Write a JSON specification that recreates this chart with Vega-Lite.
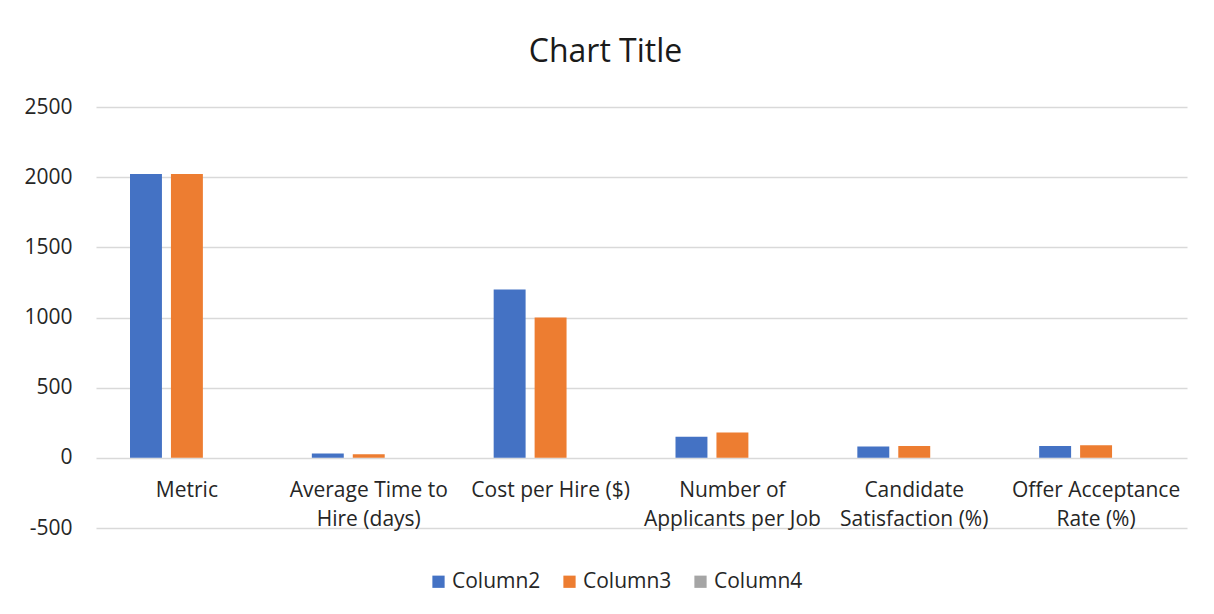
{
  "$schema": "https://vega.github.io/schema/vega-lite/v6.json",
  "width": 1091,
  "height": 421,
  "padding": {"left": 23, "top": 36, "right": 26, "bottom": 10},
  "background": "white",
  "title": {
    "text": "Chart Title",
    "fontSize": 32,
    "font": "Open Sans",
    "fontWeight": "normal",
    "color": "#1a1a1a",
    "offset": 27,
    "anchor": "middle",
    "frame": "bounds"
  },
  "data": {
    "values": [
      {"category": "Metric", "series": "Column2", "value": 2022},
      {"category": "Metric", "series": "Column3", "value": 2023},
      {"category": "Metric", "series": "Column4", "value": null},
      {"category": "Average Time to Hire (days)", "series": "Column2", "value": 30},
      {"category": "Average Time to Hire (days)", "series": "Column3", "value": 25},
      {"category": "Average Time to Hire (days)", "series": "Column4", "value": null},
      {"category": "Cost per Hire ($)", "series": "Column2", "value": 1200},
      {"category": "Cost per Hire ($)", "series": "Column3", "value": 1000},
      {"category": "Cost per Hire ($)", "series": "Column4", "value": null},
      {"category": "Number of Applicants per Job", "series": "Column2", "value": 150},
      {"category": "Number of Applicants per Job", "series": "Column3", "value": 180},
      {"category": "Number of Applicants per Job", "series": "Column4", "value": null},
      {"category": "Candidate Satisfaction (%)", "series": "Column2", "value": 80},
      {"category": "Candidate Satisfaction (%)", "series": "Column3", "value": 85},
      {"category": "Candidate Satisfaction (%)", "series": "Column4", "value": null},
      {"category": "Offer Acceptance Rate (%)", "series": "Column2", "value": 85},
      {"category": "Offer Acceptance Rate (%)", "series": "Column3", "value": 90},
      {"category": "Offer Acceptance Rate (%)", "series": "Column4", "value": null}
    ]
  },
  "mark": {"type": "bar"},
  "encoding": {
    "x": {
      "field": "category",
      "type": "nominal",
      "sort": null,
      "scale": {"paddingInner": 0.374, "paddingOuter": 0.187},
      "axis": {
        "title": null,
        "domain": false,
        "ticks": false,
        "offset": -70,
        "labelAngle": 0,
        "labelFont": "Open Sans",
        "labelFontSize": 21,
        "labelColor": "#262626",
        "labelPadding": 21,
        "labelLineHeight": 29,
        "labelBaseline": "top",
        "labelExpr": "datum.value == 'Average Time to Hire (days)' ? ['Average Time to', 'Hire (days)'] : datum.value == 'Number of Applicants per Job' ? ['Number of', 'Applicants per Job'] : datum.value == 'Candidate Satisfaction (%)' ? ['Candidate', 'Satisfaction (%)'] : datum.value == 'Offer Acceptance Rate (%)' ? ['Offer Acceptance', 'Rate (%)'] : datum.value"
      }
    },
    "xOffset": {
      "field": "series",
      "type": "nominal",
      "scale": {"domain": ["Column2", "Column3", "Column4"], "paddingInner": 0.22, "paddingOuter": 0}
    },
    "y": {
      "field": "value",
      "type": "quantitative",
      "scale": {"domain": [-500, 2500], "nice": false, "zero": false},
      "axis": {
        "title": null,
        "values": [-500, 0, 500, 1000, 1500, 2000, 2500],
        "labelExpr": "'' + datum.value",
        "domain": false,
        "ticks": false,
        "grid": true,
        "gridColor": "#D9D9D9",
        "gridWidth": 1.3,
        "labelFont": "Open Sans",
        "labelFontSize": 21,
        "labelColor": "#262626",
        "labelPadding": 24
      }
    },
    "color": {
      "field": "series",
      "type": "nominal",
      "scale": {"domain": ["Column2", "Column3", "Column4"], "range": ["#4472C4", "#ED7D31", "#A5A5A5"]},
      "legend": {
        "title": null,
        "orient": "none",
        "legendX": 332,
        "legendY": 464,
        "direction": "horizontal",
        "symbolType": "square",
        "symbolSize": 150,
        "symbolStrokeWidth": 0,
        "labelFont": "Open Sans",
        "labelFontSize": 21,
        "labelColor": "#262626",
        "labelOffset": 3,
        "columnPadding": 18
      }
    }
  },
  "config": {
    "view": {"stroke": null}
  }
}
